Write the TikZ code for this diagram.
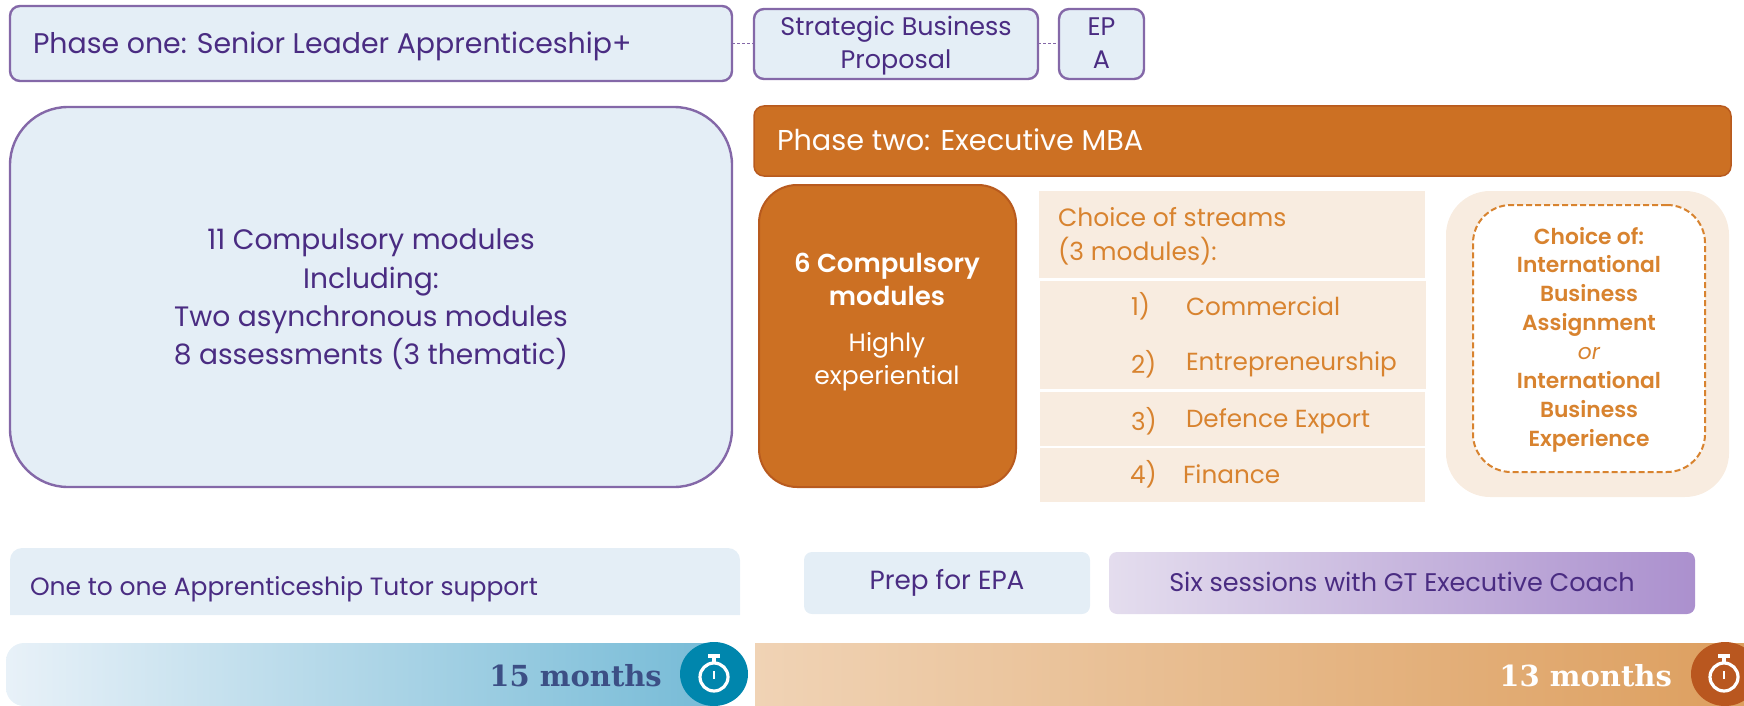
\documentclass[tikz,border=0pt]{standalone}
\usepackage{fontspec}
\setmainfont{Poppins}
\newfontfamily\semifont{Poppins SemiBold}
\newfontfamily\slabfont{DejaVu Serif}
\usetikzlibrary{calc}
\definecolor{ink}{HTML}{4A2C82}
\definecolor{rim}{HTML}{8468A8}
\definecolor{pale}{HTML}{E4EEF6}
\definecolor{burnt}{HTML}{CC7023}
\definecolor{burntrim}{HTML}{B85A1E}
\definecolor{cream}{HTML}{F8ECE0}
\definecolor{amber}{HTML}{D8832F}
\definecolor{teal}{HTML}{0086AD}
\definecolor{rust}{HTML}{B9571F}
\definecolor{coachL}{HTML}{E4DDEE}
\definecolor{coachR}{HTML}{AB90CE}
\definecolor{barBL}{HTML}{E8F1F8}
\definecolor{barBR}{HTML}{74BAD6}
\definecolor{barOL}{HTML}{F0D3B5}
\definecolor{barOR}{HTML}{DD9F5F}
\definecolor{slabInk}{HTML}{3C4F85}
\newcommand{\fs}[2]{\fontsize{#1}{#2}\selectfont}
\tikzset{
  base/.style={inner sep=0pt,outer sep=0pt,anchor=north west},
  paleBox/.style={base,draw=rim,line width=2.4pt,fill=pale,rounded corners=10pt},
  inkTxt/.style={inner sep=0pt,outer sep=0pt,text=ink,align=center},
  txt/.style={inner sep=0pt,outer sep=0pt,text=ink,anchor=west},
  link/.style={draw=rim,line width=1pt,dash pattern=on 3pt off 2pt},
  stream/.style={base,fill=cream},
  amberTxt/.style={inner sep=0pt,outer sep=0pt,text=amber,anchor=west,font=\fs{24.7}{30}},
  watch/.style={white,line width=3.2pt},
}
\begin{document}
\begin{tikzpicture}[x=1pt,y=-1pt]
\useasboundingbox (0,0) rectangle (1744,706);
% top row
\node[paleBox,minimum width=722pt,minimum height=75pt] (p1) at (10,6) {};
\node[txt,font=\fs{28.4}{32}] (p1t) at (33,46) {Phase one: Senior Leader Apprenticeship+};
\node[paleBox,minimum width=284pt,minimum height=70pt] (sbp) at (754,9) {};
\node[inkTxt,font=\fs{25.4}{33}] (sbpt) at ($(sbp.center)+(0,1.5)$) {Strategic Business\\Proposal};
\node[paleBox,minimum width=85pt,minimum height=70pt] (epa) at (1059,9) {};
\node[inkTxt,font=\fs{25.4}{33}] (epat) at ($(epa.center)+(0,-1)$) {EP\\A};
\draw[link] (p1.east |- sbp.west) -- (sbp.west);
\draw[link] (sbp.east) -- (epa.west);
% big left
\node[paleBox,rounded corners=58pt,minimum width=722pt,minimum height=380pt] (mods) at (10,107) {};
\node[inkTxt,font=\fs{28.1}{38.3}] (modst) at ($(mods.center)+(0,2.5)$) {11 Compulsory modules\\Including:\\Two asynchronous modules\\8 assessments (3 thematic)};
% phase two
\node[base,draw=burntrim,line width=1.5pt,fill=burnt,rounded corners=10pt,minimum width=977pt,minimum height=70pt] (p2) at (754,106) {};
\node[txt,text=white!95!cream,font=\fs{28.7}{32}] (p2t) at (777,140) {Phase two: Executive MBA};
\node[base,draw=burntrim,line width=2pt,fill=burnt,rounded corners=38pt,minimum width=257pt,minimum height=302pt] (six) at (759,185) {};
\node[inner sep=0pt,text=white,align=center,font=\fs{26}{33}\semifont] (sixa) at (887,279) {6 Compulsory\\modules};
\node[inner sep=0pt,text=white,align=center,font=\fs{25}{33}] (sixb) at (887,362) {Highly\\experiential};
% streams
\node[stream,minimum width=386pt,minimum height=87pt] (s0) at (1039,191) {};
\node[stream,minimum width=386pt,minimum height=108pt] (s1) at (1040,281) {};
\node[stream,minimum width=385pt,minimum height=54pt] (s3) at (1040,392) {};
\node[stream,minimum width=385pt,minimum height=54pt] (s4) at (1040,448) {};
\node[amberTxt,align=left,font=\fs{25}{34}] (st) at (1058,236) {Choice of streams\\(3 modules):};
\node[amberTxt] (n1) at (1131,306) {1)};
\node[amberTxt] (l1) at (1186,306) {Commercial};
\node[amberTxt] (n2) at (1131,364) {2)};
\node[amberTxt] (l2) at (1186,364) {Entrepreneurship};
\node[amberTxt] (n3) at (1131,421) {3)};
\node[amberTxt] (l3) at (1186,421) {Defence Export};
\node[amberTxt] (n4) at (1130,474) {4)};
\node[amberTxt] (l4) at (1183,474) {Finance};
% choice panel
\node[base,fill=cream,rounded corners=44pt,minimum width=283pt,minimum height=306pt] (cp) at (1446,191) {};
\node[base,draw=amber,line width=2pt,dash pattern=on 6pt off 3pt,fill=white,rounded corners=38pt,minimum width=232pt,minimum height=267pt] (ci) at (1473,205) {};
\node[inner sep=0pt,text=amber,align=center,font=\fs{21.8}{28.9}\semifont] (cit) at ($(ci.center)+(0,1)$) {Choice of:\\International\\Business\\Assignment\\{\rmfamily\itshape or}\\International\\Business\\Experience};
% support row
\path[fill=pale] (10,615) -- (10,560) arc[start angle=180,end angle=270,radius=12] -- (728,548) arc[start angle=270,end angle=360,radius=12] -- (740,615) -- cycle;
\node[txt,font=\fs{25}{30}] (tut) at (30,589) {One to one Apprenticeship Tutor support};
\node[base,fill=pale,rounded corners=8pt,minimum width=286pt,minimum height=62pt] (prep) at (804,552) {};
\node[inkTxt,font=\fs{26.3}{30}] (prept) at ($(prep.center)+(0,0)$) {Prep for EPA};
\node[base,left color=coachL,right color=coachR,rounded corners=8pt,minimum width=586pt,minimum height=62pt] (coach) at (1109,552) {};
\node[inkTxt,font=\fs{25.5}{30}] (coacht) at ($(coach.center)+(0,-1)$) {Six sessions with GT Executive Coach};
% timeline bars
\path[left color=barBL,right color=barBR,rounded corners=18pt] (6,643) rectangle (730,706);
\fill[teal] (714,674) ellipse[x radius=34,y radius=32];
\draw[watch] (714,677) circle[radius=14];
\draw[watch] (714,663) -- (714,657) (708,656) -- (720,656);
\draw[white,line width=2.5pt] (714,671) -- (714,679);
\node[inner sep=0pt,anchor=east,text=slabInk,font=\fs{29}{34}\slabfont\bfseries] (m15) at (662,676) {15 months};
\path[left color=barOL,right color=barOR] (755,643) rectangle (1744,706);
\fill[rust] (1725,674) ellipse[x radius=34,y radius=32];
\draw[watch] (1724,677) circle[radius=14];
\draw[watch] (1724,663) -- (1724,657) (1718,656) -- (1730,656);
\draw[white,line width=2.5pt] (1724,671) -- (1724,679);
\node[inner sep=0pt,anchor=east,text=white,font=\fs{29}{34}\slabfont\bfseries] (m13) at (1672,676) {13 months};
\end{tikzpicture}
\end{document}
